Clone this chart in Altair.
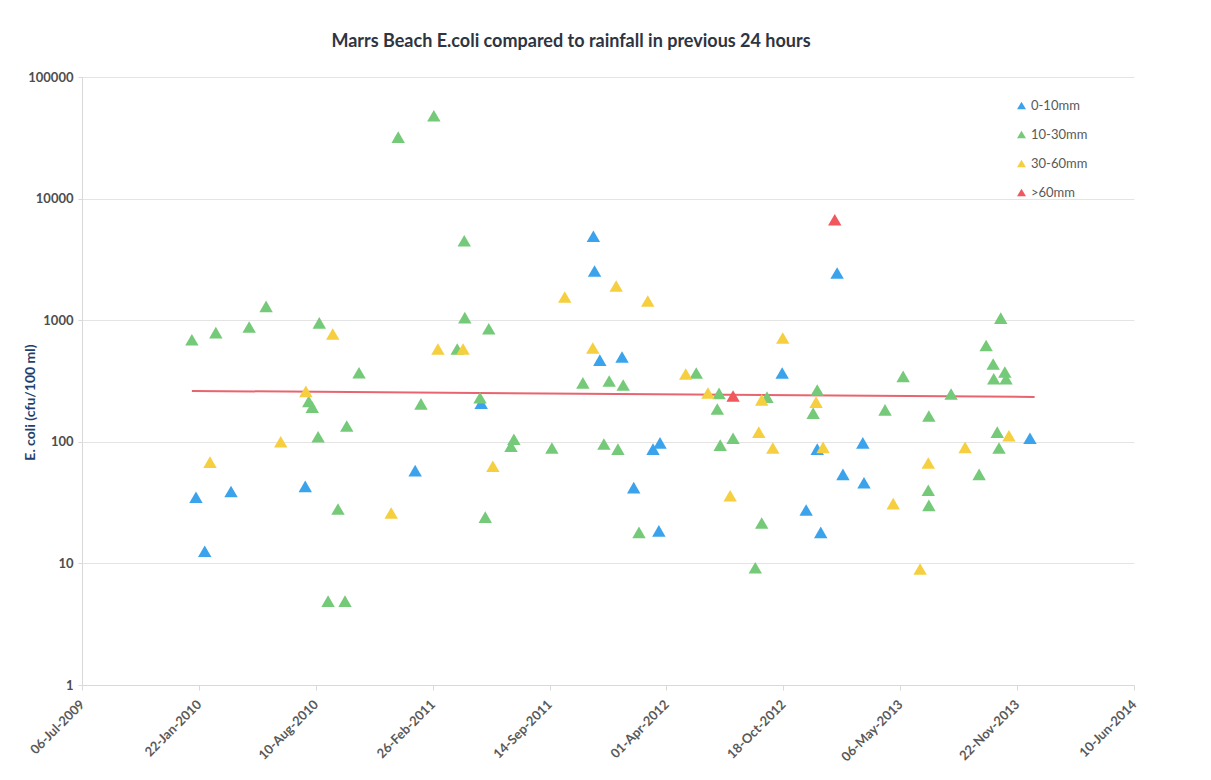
import altair as alt
import pandas as pd

# Sample dates as Excel serial numbers (days since 1899-12-30), E. coli in cfu/100 ml
blue_dates = [40195, 40210, 40255, 40382, 40570, 40683, 40875, 40877, 40886, 40924,
              40944, 40977, 40989, 40987, 41198, 41239, 41264, 41258, 41292, 41302,
              41336, 41338, 41622]
blue_values = [35, 12.6, 39, 43, 58, 208, 4900, 2540, 470, 498,
               42, 87, 98, 18.5, 368, 27.5, 18, 87, 2445, 54,
               98, 46, 107]

green_dates = [40188, 40229, 40286, 40315, 40406, 40388, 40394, 40404, 40438, 40421,
               40450, 40453, 40474, 40541, 40580, 40602, 40642, 40654, 40655, 40681,
               40690, 40696, 40739, 40734, 40804, 40857, 40893, 40902, 40917, 40926,
               40953, 41051, 41087, 41090, 41092, 41114, 41152, 41163, 41172, 41251,
               41258, 41374, 41405, 41448, 41449, 41449, 41487, 41535, 41547, 41559,
               41560, 41566, 41569, 41572, 41579, 41581]
green_values = [690, 790, 880, 1300, 950, 215, 193, 110, 28, 4.9,
                4.9, 135, 370, 32000, 205, 48000, 580, 4500, 1050, 230,
                24, 850, 105, 92, 89, 305, 96, 316, 87, 293,
                18, 368, 186, 250, 94, 107, 9.2, 21.5, 233, 172,
                267, 183, 345, 40, 30, 163, 247, 54, 620, 436,
                330, 120, 89, 1040, 375, 330]

yellow_dates = [40219, 40340, 40383, 40429, 40529, 40609, 40652, 40703, 40826, 40874,
                40914, 40968, 41033, 41071, 41109, 41158, 41182, 41163, 41199, 41256,
                41268, 41388, 41434, 41448, 41511, 41586]
yellow_values = [68, 100, 260, 770, 26, 580, 580, 63, 1550, 590,
                 1910, 1440, 361, 252, 36, 120, 89, 221, 714, 212,
                 90, 31, 9, 67, 90, 112]

red_dates = [41114, 41288]
red_values = [238, 6700]

categories = ["0-10mm", "10-30mm", "30-60mm", ">60mm"]
colors = ["#3AA3EC", "#74CA78", "#F5CF3F", "#F0585E"]

trend_dates = [40188, 41630]
trend_values = [262, 234]

x_ticks = [40000, 40200, 40400, 40600, 40800, 41000, 41200, 41400, 41600, 41800]
y_ticks = [1, 10, 100, 1000, 10000, 100000]

rows = []
for cat, ds, vs in zip(categories,
                       [blue_dates, green_dates, yellow_dates, red_dates],
                       [blue_values, green_values, yellow_values, red_values]):
    for d, v in zip(ds, vs):
        rows.append({"date": d, "ecoli": v, "rain": cat})
df = pd.DataFrame(rows)
trend_df = pd.DataFrame({"date": trend_dates, "ecoli": trend_values})

FONT = "Lato"
x_scale = alt.Scale(domain=[40000, 41800], nice=False, zero=False)
y_scale = alt.Scale(type="log", domain=[1, 100000], nice=False)

x_axis = alt.Axis(
    values=x_ticks,
    labelExpr="utcFormat((datum.value - 25569) * 86400000, '%d-%b-%Y')",
    labelAngle=-45, labelAlign="right", labelBaseline="middle",
    labelFont=FONT, labelFontSize=13, labelFontWeight="bold", labelColor="#595959",
    labelPadding=12, labelOverlap=False, labelFlush=False, labelBound=False,
    domainColor="#d9d9d9", tickColor="#d9d9d9", tickSize=5, grid=False, title=None,
)
y_axis = alt.Axis(
    values=y_ticks, format="d",
    labelFont=FONT, labelFontSize=13, labelFontWeight="bold", labelColor="#4d4d4d",
    labelPadding=5, domainColor="#d9d9d9", tickColor="#d9d9d9", tickSize=4,
    grid=True, gridColor="#e4e4e4",
    title="E. coli (cfu/100 ml)", titleFont=FONT, titleFontSize=14,
    titleFontWeight="bold", titleColor="#1F3F6E", titleX=-45, titleY=325,
)

trend = alt.Chart(trend_df).mark_line(color="#E8646E", strokeWidth=2).encode(
    x=alt.X("date:Q", scale=x_scale, axis=x_axis),
    y=alt.Y("ecoli:Q", scale=y_scale, axis=y_axis),
)

points = alt.Chart(df).mark_point(shape="triangle-up", filled=True, size=180, opacity=1).encode(
    x=alt.X("date:Q", scale=x_scale, axis=x_axis),
    y=alt.Y("ecoli:Q", scale=y_scale, axis=y_axis),
    color=alt.Color(
        "rain:N",
        scale=alt.Scale(domain=categories, range=colors),
        legend=alt.Legend(
            title=None, orient="none", legendX=933, legendY=22,
            symbolType="triangle-up", symbolSize=80, symbolStrokeWidth=0,
            labelFont=FONT, labelFontSize=13, labelColor="#595959",
            rowPadding=15, labelOffset=3,
        ),
    ),
)

chart = alt.layer(trend, points).properties(
    width=1052,
    height=608,
    title=alt.TitleParams(
        "Marrs Beach E.coli compared to rainfall in previous 24 hours",
        font=FONT, fontSize=18, fontWeight="bold", color="#2e3440",
        anchor="middle", frame="group", dx=-37, offset=20,
    ),
    autosize=alt.AutoSizeParams(type="none"),
    padding={"left": 74, "top": 69, "right": 60, "bottom": 80},
    background="white",
).configure_view(stroke=None)

chart.save("out.html", embed_options={"renderer": "svg", "actions": False})
